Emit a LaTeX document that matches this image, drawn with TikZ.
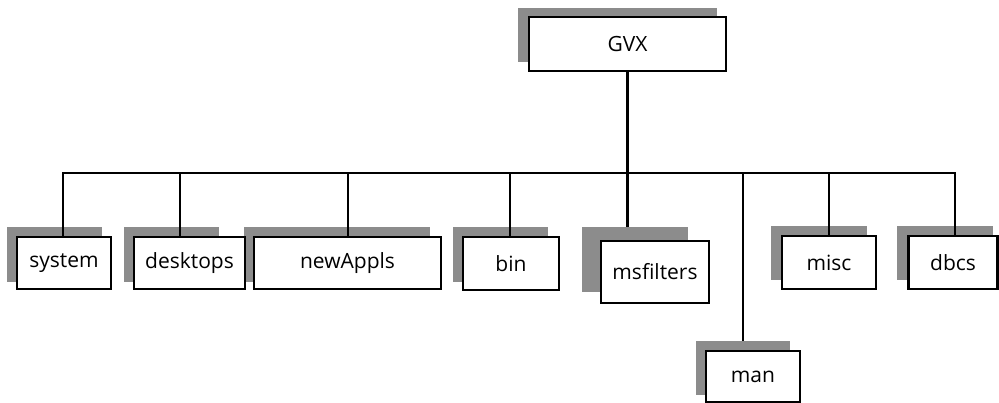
\documentclass[tikz,border=0pt]{standalone}
\usepackage{fontspec}
\setmainfont{Open Sans}
\pgfdeclarelayer{hidden}
\pgfdeclarelayer{shade}
\pgfsetlayers{hidden,shade,main}
\begin{document}
\begin{tikzpicture}[x=1pt,y=-1pt,
  dirbox/.style={draw=black, line width=2.8pt, fill=white, inner sep=0pt,
    font=\fontsize{21}{24}\selectfont},
  stipple/.style={fill=black!45},
  wire/.style={draw=black, line width=2.4pt}]
\useasboundingbox (0,0) rectangle (999,403);

% directory boxes
\node[dirbox, minimum width=197pt, minimum height=54pt] (gvx) at (627.5,44) {GVX};
\node[dirbox, minimum width=94pt, minimum height=52pt] (system) at (64,263) {system};
\node[dirbox, minimum width=111pt, minimum height=52pt] (desktops) at (189.5,263) {desktops};
\node[dirbox, minimum width=187pt, minimum height=52pt] (newappls) at (347.5,263) {newAppls};
\node[dirbox, minimum width=96pt, minimum height=53pt] (bin) at (511,263.5) {bin};
\node[dirbox, minimum width=108pt, minimum height=62pt] (msfilters) at (655,272) {msfilters};
\node[dirbox, minimum width=94pt, minimum height=53pt] (misc) at (829,262.5) {misc};
\node[dirbox, minimum width=89pt, minimum height=53pt] (dbcs) at (953,262.5) {dbcs};
\node[dirbox, minimum width=94pt, minimum height=51pt] (man) at (753,376.5) {man};

% stippled drop shadows, offset up and to the left
\begin{pgfonlayer}{shade}
\fill[stipple] (518,8) rectangle (717,62);
\fill[stipple] (7,227) rectangle (102,282);
\fill[stipple] (124,227) rectangle (219,282);
\fill[stipple] (244,227) rectangle (430,282);
\fill[stipple] (453,227) rectangle (548,282);
\fill[stipple] (582,227) rectangle (688,292);
\fill[stipple] (771,226) rectangle (867,280);
\fill[stipple] (897,226) rectangle (993,280);
\fill[stipple] (696,341) rectangle (790,395);
\end{pgfonlayer}

% bus and drop points
\coordinate (tsys) at (63,173);
\coordinate (tdesk) at (180,173);
\coordinate (tnew) at (348,173);
\coordinate (tbin) at (510,173);
\coordinate (tman) at (743,173);
\coordinate (tmisc) at (829,173);
\coordinate (tdbcs) at (955,173);

\draw[wire, line cap=rect] (tsys) -- (tdbcs);
\draw[wire] (tsys) -- (tsys |- system.north);
\draw[wire] (tdesk) -- (tdesk |- desktops.north);
\draw[wire] (tnew) -- (tnew |- newappls.north);
\draw[wire] (tbin) -- (tbin |- bin.north);
\draw[wire] (tmisc) -- (tmisc |- misc.north);
\draw[wire] (tdbcs) -- (tdbcs |- dbcs.north);

% these two drops end under their shadows
\begin{pgfonlayer}{hidden}
\draw[wire] (gvx.south) -- (gvx.south |- msfilters.north);
\draw[wire] (tman) -- (tman |- man.north);
\end{pgfonlayer}
\end{tikzpicture}
\end{document}
